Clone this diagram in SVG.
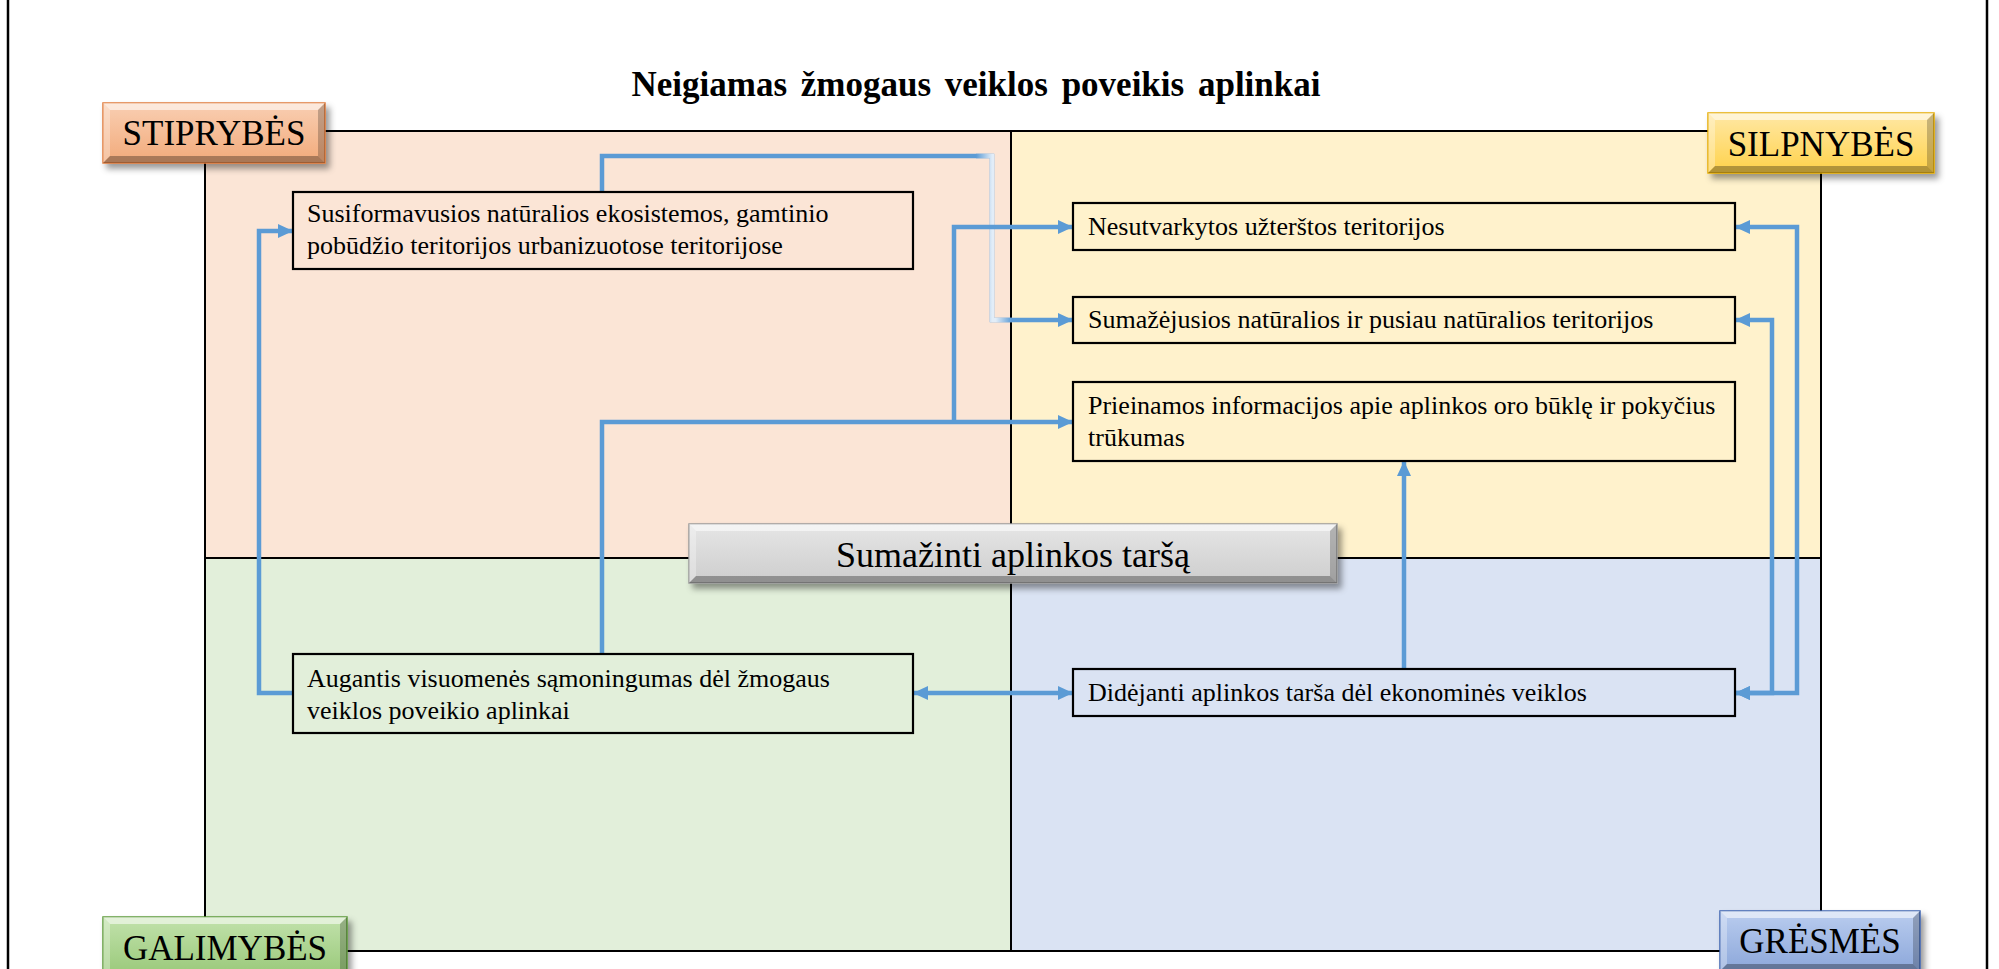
<svg xmlns="http://www.w3.org/2000/svg" width="1999" height="969" viewBox="0 0 1999 969">
<defs>
<style>
.q{stroke:none}
.qline{fill:none;stroke:#000;stroke-width:2}
.node rect{fill:none;stroke:#000;stroke-width:2.2}
.nt{font-family:"Liberation Serif","Times New Roman",serif;font-size:26px;fill:#000}
.lt{font-family:"Liberation Serif","Times New Roman",serif;font-size:35px;fill:#000;text-anchor:middle}
.title{font-family:"Liberation Serif","Times New Roman",serif;font-size:35px;font-weight:bold;fill:#000;text-anchor:middle;word-spacing:5px}
.bt{fill:#fff;opacity:.55}
.bl{fill:#fff;opacity:.3}
.br{fill:#000;opacity:.22}
.bb{fill:#000;opacity:.3}
.conn path{fill:none;stroke:#5B9BD5;stroke-width:4.5;stroke-linejoin:miter}
.frame{stroke:#000;stroke-width:2.5}
</style>
<marker id="ah" viewBox="0 0 15 14" markerUnits="userSpaceOnUse" markerWidth="15" markerHeight="14" refX="15" refY="7" orient="auto-start-reverse">
<path d="M0,0 L15,7 L0,14 z" fill="#5B9BD5"/>
</marker>
<linearGradient id="gS" x1="0" y1="0" x2="0" y2="1"><stop offset="0" stop-color="#F9CFB3"/><stop offset="1" stop-color="#F2AA7A"/></linearGradient>
<linearGradient id="gW" x1="0" y1="0" x2="0" y2="1"><stop offset="0" stop-color="#FFE8A6"/><stop offset="1" stop-color="#FFD24A"/></linearGradient>
<linearGradient id="gO" x1="0" y1="0" x2="0" y2="1"><stop offset="0" stop-color="#C2E2AC"/><stop offset="1" stop-color="#98C878"/></linearGradient>
<linearGradient id="gT" x1="0" y1="0" x2="0" y2="1"><stop offset="0" stop-color="#BACDEF"/><stop offset="1" stop-color="#8CA7DA"/></linearGradient>
<linearGradient id="gC" x1="0" y1="0" x2="0" y2="1"><stop offset="0" stop-color="#E6E6E6"/><stop offset="1" stop-color="#CDCDCD"/></linearGradient>
<linearGradient id="fade" gradientUnits="userSpaceOnUse" x1="976" y1="0" x2="1012" y2="0"><stop offset="0" stop-color="#5B9BD5"/><stop offset="0.45" stop-color="#E2EDF8"/><stop offset="0.55" stop-color="#E2EDF8"/><stop offset="1" stop-color="#5B9BD5"/></linearGradient>
<filter id="sh" x="-10%" y="-30%" width="125%" height="170%"><feDropShadow dx="4" dy="5" stdDeviation="3" flood-color="#000" flood-opacity="0.4"/></filter>
</defs>

<rect width="1999" height="969" fill="#fff"/>
<line class="frame" x1="8" y1="0" x2="8" y2="969"/>
<line class="frame" x1="1987" y1="0" x2="1987" y2="969"/>

<text class="title" x="976" y="96">Neigiamas žmogaus veiklos poveikis aplinkai</text>

<g id="quadrants">
<rect class="q" x="205" y="131" width="806" height="427" fill="#FBE5D6"/>
<rect class="q" x="1011" y="131" width="810" height="427" fill="#FFF2CC"/>
<rect class="q" x="205" y="558" width="806" height="393" fill="#E2EFDA"/>
<rect class="q" x="1011" y="558" width="810" height="393" fill="#DAE3F3"/>
<rect class="qline" x="205" y="131" width="1616" height="820"/>
<line class="qline" x1="1011" y1="131" x2="1011" y2="951"/>
<line class="qline" x1="205" y1="558" x2="1821" y2="558"/>
</g>

<g class="conn" id="connectors">
<path d="M602,192 V156 H992 V320 H1073" marker-end="url(#ah)"/>
<path d="M976,156 H992 V320 H1012" style="stroke:url(#fade)"/>
<path d="M602,654 V422 H1073" marker-end="url(#ah)"/>
<path d="M954,422 V227 H1073" marker-end="url(#ah)"/>
<path d="M293,693 H259 V231 H293" marker-end="url(#ah)"/>
<path d="M913,693 H1073" marker-start="url(#ah)" marker-end="url(#ah)"/>
<path d="M1404,669 V461" marker-end="url(#ah)"/>
<path d="M1735,693 H1797 V227 H1735" marker-start="url(#ah)" marker-end="url(#ah)"/>
<path d="M1735,693 H1772 V320 H1735" marker-start="url(#ah)" marker-end="url(#ah)"/>
</g>

<g id="nodeA" class="node">
<rect x="293" y="192" width="620" height="77"/>
<text class="nt" x="307" y="222">Susiformavusios natūralios ekosistemos, gamtinio</text>
<text class="nt" x="307" y="254">pobūdžio teritorijos urbanizuotose teritorijose</text>
</g>
<g id="nodeB" class="node">
<rect x="1073" y="203" width="662" height="47"/>
<text class="nt" x="1088" y="235">Nesutvarkytos užterštos teritorijos</text>
</g>
<g id="nodeC" class="node">
<rect x="1073" y="297" width="662" height="46"/>
<text class="nt" x="1088" y="328">Sumažėjusios natūralios ir pusiau natūralios teritorijos</text>
</g>
<g id="nodeD" class="node">
<rect x="1073" y="382" width="662" height="79"/>
<text class="nt" x="1088" y="414">Prieinamos informacijos apie aplinkos oro būklę ir pokyčius</text>
<text class="nt" x="1088" y="446">trūkumas</text>
</g>
<g id="nodeE" class="node">
<rect x="293" y="654" width="620" height="79"/>
<text class="nt" x="307" y="687">Augantis visuomenės sąmoningumas dėl žmogaus</text>
<text class="nt" x="307" y="719">veiklos poveikio aplinkai</text>
</g>
<g id="nodeF" class="node">
<rect x="1073" y="669" width="662" height="47"/>
<text class="nt" x="1088" y="701">Didėjanti aplinkos tarša dėl ekonominės veiklos</text>
</g>

<g id="center">
<g filter="url(#sh)"><rect x="689" y="524" width="648" height="59" fill="url(#gC)" stroke="#9A9A9A" stroke-width="1.5"/></g>
<polygon class="bt" points="689,524 1337,524 1330,531 696,531"/>
<polygon class="bl" points="689,524 696,531 696,576 689,583"/>
<polygon class="br" points="1337,524 1337,583 1330,576 1330,531"/>
<polygon class="bb" points="689,583 1337,583 1330,576 696,576"/>
<text class="lt" x="1013" y="567" style="font-size:36px">Sumažinti aplinkos taršą</text>
</g>

<g id="labelS">
<g filter="url(#sh)"><rect x="103" y="103" width="222" height="60" fill="url(#gS)" stroke="#E07A3A" stroke-width="1.5"/></g>
<polygon class="bt" points="103,103 325,103 318,110 110,110"/>
<polygon class="bl" points="103,103 110,110 110,156 103,163"/>
<polygon class="br" points="325,103 325,163 318,156 318,110"/>
<polygon class="bb" points="103,163 325,163 318,156 110,156"/>
<text class="lt" x="214" y="145">STIPRYBĖS</text>
</g>
<g id="labelW">
<g filter="url(#sh)"><rect x="1708" y="113" width="226" height="60" fill="url(#gW)" stroke="#E6AC00" stroke-width="1.5"/></g>
<polygon class="bt" points="1708,113 1934,113 1927,120 1715,120"/>
<polygon class="bl" points="1708,113 1715,120 1715,166 1708,173"/>
<polygon class="br" points="1934,113 1934,173 1927,166 1927,120"/>
<polygon class="bb" points="1708,173 1934,173 1927,166 1715,166"/>
<text class="lt" x="1821" y="156">SILPNYBĖS</text>
</g>
<g id="labelO">
<g filter="url(#sh)"><rect x="103" y="917" width="244" height="60" fill="url(#gO)" stroke="#5E9A3A" stroke-width="1.5"/></g>
<polygon class="bt" points="103,917 347,917 340,924 110,924"/>
<polygon class="bl" points="103,917 110,924 110,970 103,977"/>
<polygon class="br" points="347,917 347,977 340,970 340,924"/>
<polygon class="bb" points="103,977 347,977 340,970 110,970"/>
<text class="lt" x="225" y="960">GALIMYBĖS</text>
</g>
<g id="labelT">
<g filter="url(#sh)"><rect x="1720" y="911" width="200" height="60" fill="url(#gT)" stroke="#3E64B0" stroke-width="1.5"/></g>
<polygon class="bt" points="1720,911 1920,911 1913,918 1727,918"/>
<polygon class="bl" points="1720,911 1727,918 1727,964 1720,971"/>
<polygon class="br" points="1920,911 1920,971 1913,964 1913,918"/>
<polygon class="bb" points="1720,971 1920,971 1913,964 1727,964"/>
<text class="lt" x="1820" y="953">GRĖSMĖS</text>
</g>
</svg>
